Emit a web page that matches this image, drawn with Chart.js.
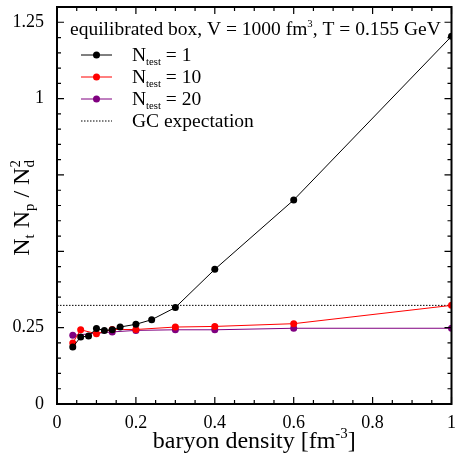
<!DOCTYPE html>
<html>
<head>
<meta charset="utf-8">
<script src="https://cdn.jsdelivr.net/npm/chart.js@4.4.1/dist/chart.umd.min.js"></script>
<style>
  html, body { margin: 0; padding: 0; background: #fff; }
</style>
</head>
<body>
<canvas id="chart" width="455" height="454"></canvas>
<script>
// data
const density1 = [0.04, 0.06, 0.08, 0.10, 0.12, 0.14, 0.16, 0.20, 0.24, 0.30, 0.40, 0.60, 1.00];
const ratio1 = [0.187, 0.219, 0.223, 0.247, 0.241, 0.243, 0.252, 0.261, 0.276, 0.316, 0.441, 0.668, 1.204];
const density10 = [0.04, 0.06, 0.10, 0.14, 0.20, 0.30, 0.40, 0.60, 1.00];
const ratio10 = [0.200, 0.243, 0.230, 0.244, 0.244, 0.252, 0.254, 0.263, 0.323];
const density20 = [0.04, 0.14, 0.20, 0.30, 0.40, 0.60, 1.00];
const ratio20 = [0.225, 0.236, 0.241, 0.243, 0.243, 0.248, 0.248];
const gcDensity = [0, 1];
const gcExpectation = [0.323, 0.323];
const xTicks = [0, 0.2, 0.4, 0.6, 0.8, 1];
const yTicks = [0, 0.25, 1, 1.25];

const FONT = '"Liberation Serif", "DejaVu Serif", serif';

function toPoints(xs, ys) {
    return xs.map((x, i) => ({ x: x, y: ys[i] }));
}

// text with sub/superscripts
function partFont(p, size) {
    const s = p.sub || p.sup ? size * (p.small || 0.62) : size;
    return s + 'px ' + FONT;
}
function richWidth(ctx, parts, size) {
    let w = 0;
    parts.forEach(p => {
        ctx.font = partFont(p, size);
        w += ctx.measureText(p.t).width;
    });
    return w;
}
function drawRich(ctx, parts, x, y, size) {
    parts.forEach(p => {
        ctx.font = partFont(p, size);
        let dy = 0;
        if (p.sub) dy = size * 0.22;
        if (p.sup) dy = -size * 0.4;
        ctx.fillText(p.t, x, y + dy);
        x += ctx.measureText(p.t).width;
    });
}

const frame = {
    id: 'frame',
    afterDraw(chart) {
        const ctx = chart.ctx;
        const a = chart.chartArea;
        const xs = chart.scales.x, ys = chart.scales.y;
        ctx.save();
        ctx.strokeStyle = '#000';
        ctx.fillStyle = '#000';

        // ticks on all four sides, pointing inward
        ctx.lineWidth = 1.2;
        ctx.beginPath();
        for (let i = 0; i <= 20; i++) {
            const px = xs.getPixelForValue(i * 0.05);
            const len = i % 4 === 0 ? 7 : 4;
            ctx.moveTo(px, a.bottom); ctx.lineTo(px, a.bottom - len);
            ctx.moveTo(px, a.top); ctx.lineTo(px, a.top + len);
        }
        for (let i = 0; i <= 26; i++) {
            const py = ys.getPixelForValue(i * 0.05);
            const len = i % 5 === 0 ? 7 : 4;
            ctx.moveTo(a.left, py); ctx.lineTo(a.left + len, py);
            ctx.moveTo(a.right, py); ctx.lineTo(a.right - len, py);
        }
        ctx.stroke();

        ctx.lineWidth = 2;
        ctx.strokeRect(a.left, a.top, a.right - a.left, a.bottom - a.top);

        // axis titles
        ctx.textAlign = 'left';
        ctx.textBaseline = 'alphabetic';
        const xTitle = [{ t: 'baryon density [fm' }, { t: '-3', sup: true }, { t: ']' }];
        const xw = richWidth(ctx, xTitle, 24);
        drawRich(ctx, xTitle, (a.left + a.right) / 2 - xw / 2, 448, 24);

        const yTitle = [
            { t: 'N' }, { t: 't', sub: true }, { t: ' N' }, { t: 'p', sub: true },
            { t: ' / N' }, { t: 'd', sub: true }, { t: '2', sup: true, back: true }
        ];
        ctx.save();
        ctx.translate(21, 208);
        ctx.rotate(-Math.PI / 2);
        const yw = richWidth(ctx, yTitle.slice(0, 6), 24);
        let cx = -yw / 2;
        yTitle.forEach(p => {
            ctx.font = partFont(p, 24);
            const dy = p.sub ? 5 : (p.sup ? -9 : 0);
            let px = cx;
            if (p.back) px = cx - ctx.measureText('d').width; // stack 2 over d
            ctx.fillText(p.t, px, 8 + dy);
            if (!p.back) cx += ctx.measureText(p.t).width;
        });
        ctx.restore();

        // legend
        const LS = 19.5;
        drawRich(ctx, [{ t: 'equilibrated box, V = 1000 fm' }, { t: '3', sup: true, small: 0.55 }, { t: ', T = 0.155 GeV' }], 70, 35, LS);

        const rows = [
            { label: '1', color: '#000000' },
            { label: '10', color: '#ff0000' },
            { label: '20', color: '#800080' }
        ];
        rows.forEach((r, i) => {
            const y = 55 + i * 22;
            ctx.strokeStyle = r.color;
            ctx.fillStyle = r.color;
            ctx.lineWidth = 1;
            ctx.beginPath();
            ctx.moveTo(81, y); ctx.lineTo(112, y);
            ctx.stroke();
            ctx.beginPath();
            ctx.arc(96.5, y, 3.5, 0, Math.PI * 2);
            ctx.fill();
            ctx.fillStyle = '#000';
            drawRich(ctx, [{ t: 'N' }, { t: 'test', sub: true, small: 0.55 }, { t: ' = ' + r.label }], 132, y + 6, LS);
        });
        const gy = 121;
        ctx.strokeStyle = '#000';
        ctx.lineWidth = 1;
        ctx.setLineDash([1.5, 1.5]);
        ctx.beginPath();
        ctx.moveTo(81, gy); ctx.lineTo(112, gy);
        ctx.stroke();
        ctx.setLineDash([]);
        ctx.fillStyle = '#000';
        ctx.font = LS + 'px ' + FONT;
        ctx.fillText('GC expectation', 132, gy + 6);

        ctx.restore();
    }
};

function series(xs, ys, color) {
    return {
        data: toPoints(xs, ys),
        borderColor: color,
        backgroundColor: color,
        borderWidth: 1,
        pointRadius: 3.5,
        pointBorderWidth: 0,
        pointHoverRadius: 3.5,
        tension: 0
    };
}

new Chart(document.getElementById('chart').getContext('2d'), {
    type: 'line',
    data: {
        datasets: [
            series(density1, ratio1, '#000000'),
            series(density10, ratio10, '#ff0000'),
            series(density20, ratio20, '#800080'),
            {
                data: toPoints(gcDensity, gcExpectation),
                borderColor: '#000000',
                borderWidth: 1,
                borderDash: [1.5, 1.5],
                pointRadius: 0
            }
        ]
    },
    plugins: [frame],
    options: {
        responsive: false,
        animation: false,
        events: [],
        layout: { padding: { top: 7, right: 2, left: 0, bottom: 0 } },
        plugins: {
            legend: { display: false },
            tooltip: { enabled: false }
        },
        scales: {
            x: {
                type: 'linear',
                min: 0,
                max: 1,
                afterBuildTicks: scale => { scale.ticks = xTicks.map(v => ({ value: v })); },
                afterFit: scale => { scale.height = 50; scale.paddingLeft = 0; scale.paddingRight = 0; },
                grid: { display: false },
                border: { display: false },
                ticks: {
                    color: '#000',
                    padding: 0,
                    maxRotation: 0,
                    font: { family: FONT, size: 18 },
                    callback: v => String(v)
                }
            },
            y: {
                type: 'linear',
                min: 0,
                max: 1.3,
                afterBuildTicks: scale => { scale.ticks = yTicks.map(v => ({ value: v })); },
                afterFit: scale => { scale.width = 57; scale.paddingTop = 0; scale.paddingBottom = 0; },
                grid: { display: false },
                border: { display: false },
                ticks: {
                    color: '#000',
                    padding: 5,
                    font: { family: FONT, size: 18 },
                    callback: v => String(v)
                }
            }
        }
    }
});
</script>
</body>
</html>
